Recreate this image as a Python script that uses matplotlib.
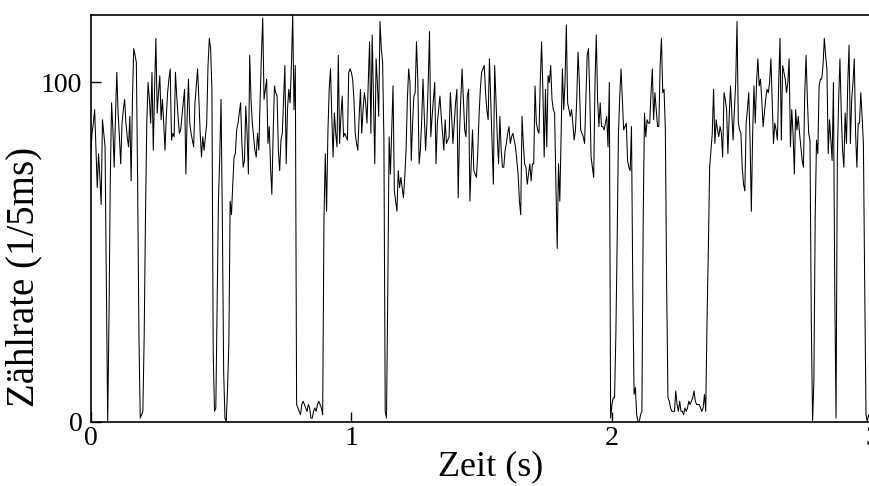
import numpy as np
import matplotlib
matplotlib.use('Agg')
import matplotlib.pyplot as plt

# Zaehlrate in 5 ms bins (0 .. 3 s)
bin_width = 0.005

counts_a = [79, 85, 88, 92, 80, 69, 79, 72, 64, 89,
            85, 81, 40, 0, 30, 71, 94, 86, 75, 90,
            103, 91, 84, 76, 88, 92, 95, 88, 84, 81,
            90, 71, 95, 110, 108, 106, 70, 25, 1, 2,
            3, 25, 60, 88, 100, 95, 88, 103, 80, 98,
            113, 91, 97, 102, 89, 95, 88, 80, 90, 97,
            101, 104, 83, 85, 84, 103, 96, 90, 85, 86,
            90, 94, 98, 73, 90, 101, 88, 85, 83, 81,
            94, 99, 104, 95, 85]

counts_b = [78, 84, 80, 84, 88, 105, 113, 110, 98, 20,
            3, 4, 35, 65, 78, 95, 60, 15, 1, 0,
            10, 23, 65, 61, 70, 78, 79, 86, 88, 91,
            94, 82, 75, 77, 93, 85, 73, 108, 95, 88,
            84, 80, 78, 85, 80, 95, 108, 119, 95, 98,
            101, 82, 87, 75, 67, 85, 99, 97, 96, 80,
            74, 83, 85, 95, 105, 76, 92, 98, 94, 105,
            120, 92, 105, 5, 4, 3, 2, 5, 6, 5,
            4, 3]

counts_c = [5, 4, 1, 1, 3, 4, 3, 5, 6, 5,
            4, 2, 60, 79, 62, 85, 98, 104, 90, 78,
            91, 85, 81, 108, 82, 90, 96, 84, 85, 84,
            83, 103, 104, 103, 101, 95, 85, 82, 80, 90,
            98, 85, 92, 97, 94, 88, 100, 112, 85, 114,
            95, 76, 107, 100, 90, 118, 110, 106, 83, 3,
            1, 40, 84, 73, 86, 99, 68, 65, 62, 74,
            69, 72, 69, 66, 72, 80, 95, 104, 100, 77,
            88, 96, 97, 112, 101, 76]

counts_d = [80, 89, 101, 90, 80, 88, 100, 115, 84, 90,
            95, 100, 76, 88, 92, 96, 90, 85, 80, 89,
            82, 83, 84, 97, 90, 82, 88, 94, 98, 66,
            85, 95, 104, 95, 86, 84, 96, 98, 65, 76,
            86, 74, 73, 72, 79, 90, 98, 103, 104, 105,
            97, 92, 89, 107, 95, 82, 70, 105, 95, 84,
            76, 90, 80, 75, 75, 80, 82, 85, 87, 82,
            84, 85, 83, 81, 77, 73, 65, 61, 90, 82,
            76, 75, 70, 73, 76]

counts_e = [71, 76, 76, 99, 88, 86, 85, 100, 112, 98,
            78, 98, 81, 102, 100, 105, 95, 92, 91, 70,
            51, 76, 65, 85, 104, 92, 100, 117, 94, 92,
            90, 92, 88, 83, 86, 95, 109, 100, 86, 85,
            84, 82, 95, 108, 110, 96, 78, 75, 72, 100,
            114, 95, 87, 94, 87, 87, 86, 88, 90, 81,
            100, 1, 5, 7, 7, 25, 53, 85, 96, 104,
            95, 86, 87, 88, 77, 75, 74, 87, 40, 8,
            10, 2, 0]

counts_f = [0, 2, 3, 60, 91, 84, 89, 88, 88, 97,
            104, 89, 97, 92, 87, 87, 105, 113, 97, 98,
            86, 40, 7, 6, 4, 3, 3, 3, 9, 5,
            3, 6, 3, 3, 2, 4, 3, 4, 6, 5,
            6, 7, 9, 6, 5, 5, 5, 4, 3, 4,
            8, 3, 30, 51, 75, 80, 85, 98, 82, 89,
            86, 84, 87, 85, 78, 97, 95, 92, 79, 90,
            99, 91, 83, 92, 100, 118, 88, 86, 85, 75,
            70, 68, 88, 92, 97]

counts_g = [83, 62, 85, 99, 88, 100, 107, 99, 101, 95,
            87, 91, 95, 98, 97, 100, 107, 95, 82, 88,
            86, 83, 100, 113, 83, 105, 103, 101, 97, 100,
            107, 81, 92, 85, 73, 92, 86, 90, 85, 81,
            77, 75, 97, 108, 95, 85, 83, 30, 0, 12,
            60, 83, 79, 99, 101, 101, 105, 113, 108, 104,
            79, 89, 83, 77, 100, 40, 1, 78, 95, 107,
            91, 80, 75, 91, 82, 100, 111, 82, 95, 100,
            107, 85, 75, 88, 88, 97, 90, 82, 40, 2,
            0, 2, 1, 3]

x_ticks = [0, 1, 2, 3]
y_ticks = [0, 100]

counts = np.array(counts_a + counts_b + counts_c + counts_d
                  + counts_e + counts_f + counts_g, dtype=float)
t = np.arange(len(counts)) * bin_width

plt.rcParams['font.family'] = ['Liberation Serif', 'DejaVu Serif']

fig = plt.figure(figsize=(8.7, 4.86), dpi=100)
# axes run a little past the right edge, as in the cropped original
ax = fig.add_axes([0.1043, 0.1327, 0.8986, 0.8371])

ax.plot(t, counts, color='black', linewidth=0.75)

ax.set_xlim(0, 3)
ax.set_ylim(0, 120)
ax.set_xticks(x_ticks)
ax.set_yticks(y_ticks)
ax.tick_params(direction='in', length=7, width=1, labelsize=20,
               top=False, right=False)
ax.tick_params(axis='x', pad=3)
ax.tick_params(axis='y', pad=6)
for s in ax.spines.values():
    s.set_linewidth(1.2)

ax.set_xlabel('Zeit (s)', fontsize=26)
ax.xaxis.set_label_coords(0.512, -0.072)
ax.set_ylabel('Zählrate (1/5ms)', fontsize=28)
ax.yaxis.set_label_coords(-0.062, 0.355)

fig.savefig('out.png', dpi=100)
